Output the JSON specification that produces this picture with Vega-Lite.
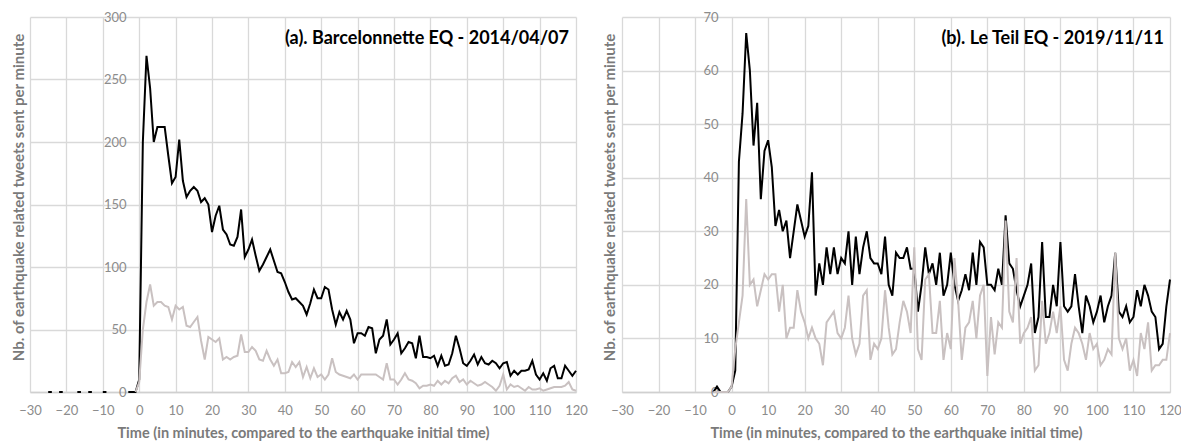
{
  "$schema": "https://vega.github.io/schema/vega-lite/v6.json",
  "padding": {"left": 10, "top": 11, "right": 5, "bottom": 2},
  "background": "white",
  "spacing": 46,
  "bounds": "flush",
  "config": {
    "view": {"stroke": null},
    "font": "Lato",
    "axis": {
      "labelFont": "Lato", "labelFontSize": 13, "labelColor": "#8c8c8c", "labelFlush": false,
      "titleFont": "Lato", "titleFontSize": 14.5, "titleFontWeight": "bold", "titleColor": "#7a7a7a",
      "gridColor": "#d9d9d9", "gridWidth": 1.3, "ticks": false
    },
    "axisY": {"titleFontSize": 15}
  },
  "datasets": {
    "a": [
      {"t": -26, "all": null, "sub": null}, {"t": -25, "all": 0, "sub": null}, {"t": -24, "all": 0, "sub": null}, {"t": -23, "all": null, "sub": null},
      {"t": -22, "all": 0, "sub": null}, {"t": -21, "all": 0, "sub": null}, {"t": -20, "all": null, "sub": null},
      {"t": -17, "all": 0, "sub": null}, {"t": -16, "all": 0, "sub": null}, {"t": -15, "all": null, "sub": null},
      {"t": -14, "all": 0, "sub": null}, {"t": -13, "all": 0, "sub": null}, {"t": -12, "all": null, "sub": null},
      {"t": -10, "all": 0, "sub": null}, {"t": -9, "all": 0, "sub": null}, {"t": -8, "all": null, "sub": null},
      {"t": -3, "all": 0, "sub": null}, {"t": -2, "all": 0, "sub": null}, {"t": -1, "all": 0, "sub": 0},
      {"t": 0, "all": 10, "sub": 8}, {"t": 1, "all": 200, "sub": 50}, {"t": 2, "all": 269, "sub": 72}, {"t": 3, "all": 243, "sub": 86},
      {"t": 4, "all": 200, "sub": 69}, {"t": 5, "all": 212, "sub": 72}, {"t": 6, "all": 212, "sub": 72}, {"t": 7, "all": 212, "sub": 69},
      {"t": 8, "all": 189, "sub": 68}, {"t": 9, "all": 167, "sub": 58}, {"t": 10, "all": 172, "sub": 69}, {"t": 11, "all": 202, "sub": 66},
      {"t": 12, "all": 169, "sub": 68}, {"t": 13, "all": 156, "sub": 53}, {"t": 14, "all": 161, "sub": 52}, {"t": 15, "all": 164, "sub": 56},
      {"t": 16, "all": 161, "sub": 60}, {"t": 17, "all": 152, "sub": 41}, {"t": 18, "all": 155, "sub": 26}, {"t": 19, "all": 150, "sub": 44},
      {"t": 20, "all": 128, "sub": 42}, {"t": 21, "all": 141, "sub": 40}, {"t": 22, "all": 149, "sub": 43}, {"t": 23, "all": 130, "sub": 26},
      {"t": 24, "all": 126, "sub": 28}, {"t": 25, "all": 118, "sub": 26}, {"t": 26, "all": 117, "sub": 28}, {"t": 27, "all": 124, "sub": 29},
      {"t": 28, "all": 146, "sub": 46}, {"t": 29, "all": 108, "sub": 32}, {"t": 30, "all": 114, "sub": 32}, {"t": 31, "all": 122, "sub": 36},
      {"t": 32, "all": 109, "sub": 33}, {"t": 33, "all": 97, "sub": 26}, {"t": 34, "all": 102, "sub": 25}, {"t": 35, "all": 108, "sub": 33},
      {"t": 36, "all": 114, "sub": 26}, {"t": 37, "all": 105, "sub": 21}, {"t": 38, "all": 96, "sub": 26}, {"t": 39, "all": 95, "sub": 15},
      {"t": 40, "all": 88, "sub": 15}, {"t": 41, "all": 80, "sub": 16}, {"t": 42, "all": 74, "sub": 24}, {"t": 43, "all": 75, "sub": 20},
      {"t": 44, "all": 72, "sub": 24}, {"t": 45, "all": 69, "sub": 12}, {"t": 46, "all": 62, "sub": 20}, {"t": 47, "all": 71, "sub": 11},
      {"t": 48, "all": 82, "sub": 19}, {"t": 49, "all": 75, "sub": 12}, {"t": 50, "all": 75, "sub": 14}, {"t": 51, "all": 84, "sub": 10},
      {"t": 52, "all": 82, "sub": 14}, {"t": 53, "all": 66, "sub": 27}, {"t": 54, "all": 54, "sub": 16}, {"t": 55, "all": 64, "sub": 14},
      {"t": 56, "all": 58, "sub": 13}, {"t": 57, "all": 65, "sub": 12}, {"t": 58, "all": 58, "sub": 11}, {"t": 59, "all": 39, "sub": 14},
      {"t": 60, "all": 47, "sub": 10}, {"t": 61, "all": 47, "sub": 14}, {"t": 62, "all": 45, "sub": 14}, {"t": 63, "all": 52, "sub": 14},
      {"t": 64, "all": 51, "sub": 14}, {"t": 65, "all": 31, "sub": 14}, {"t": 66, "all": 42, "sub": 12}, {"t": 67, "all": 45, "sub": 10},
      {"t": 68, "all": 58, "sub": 23}, {"t": 69, "all": 38, "sub": 10}, {"t": 70, "all": 42, "sub": 10}, {"t": 71, "all": 47, "sub": 6},
      {"t": 72, "all": 31, "sub": 10}, {"t": 73, "all": 35, "sub": 15}, {"t": 74, "all": 40, "sub": 10}, {"t": 75, "all": 39, "sub": 9},
      {"t": 76, "all": 27, "sub": 7}, {"t": 77, "all": 45, "sub": 3}, {"t": 78, "all": 28, "sub": 5}, {"t": 79, "all": 28, "sub": 5},
      {"t": 80, "all": 27, "sub": 6}, {"t": 81, "all": 29, "sub": 5}, {"t": 82, "all": 21, "sub": 9}, {"t": 83, "all": 29, "sub": 6},
      {"t": 84, "all": 21, "sub": 9}, {"t": 85, "all": 22, "sub": 7}, {"t": 86, "all": 31, "sub": 11}, {"t": 87, "all": 45, "sub": 13},
      {"t": 88, "all": 35, "sub": 8}, {"t": 89, "all": 23, "sub": 10}, {"t": 90, "all": 21, "sub": 6}, {"t": 91, "all": 25, "sub": 9},
      {"t": 92, "all": 30, "sub": 7}, {"t": 93, "all": 22, "sub": 5}, {"t": 94, "all": 28, "sub": 6}, {"t": 95, "all": 23, "sub": 8},
      {"t": 96, "all": 22, "sub": 6}, {"t": 97, "all": 25, "sub": 4}, {"t": 98, "all": 23, "sub": 1}, {"t": 99, "all": 19, "sub": 5},
      {"t": 100, "all": 23, "sub": 14}, {"t": 101, "all": 24, "sub": 2}, {"t": 102, "all": 13, "sub": 6}, {"t": 103, "all": 17, "sub": 4},
      {"t": 104, "all": 14, "sub": 5}, {"t": 105, "all": 17, "sub": 3}, {"t": 106, "all": 17, "sub": 1}, {"t": 107, "all": 18, "sub": 4},
      {"t": 108, "all": 25, "sub": 2}, {"t": 109, "all": 14, "sub": 2}, {"t": 110, "all": 10, "sub": 3}, {"t": 111, "all": 15, "sub": 1},
      {"t": 112, "all": 9, "sub": 2}, {"t": 113, "all": 19, "sub": 3}, {"t": 114, "all": 21, "sub": 4}, {"t": 115, "all": 11, "sub": 4},
      {"t": 116, "all": 11, "sub": 4}, {"t": 117, "all": 21, "sub": 5}, {"t": 118, "all": 17, "sub": 8}, {"t": 119, "all": 13, "sub": 2},
      {"t": 120, "all": 17, "sub": 1}
    ],
    "b": [
      {"t": -5, "all": 0, "sub": 0}, {"t": -4, "all": 1, "sub": 0}, {"t": -3, "all": 0, "sub": 0}, {"t": -2, "all": 0, "sub": 0},
      {"t": -1, "all": 0, "sub": 0}, {"t": 0, "all": 1, "sub": 1}, {"t": 1, "all": 4, "sub": 8}, {"t": 2, "all": 43, "sub": 13},
      {"t": 3, "all": 52, "sub": 18}, {"t": 4, "all": 67, "sub": 36}, {"t": 5, "all": 60, "sub": 20}, {"t": 6, "all": 46, "sub": 21},
      {"t": 7, "all": 54, "sub": 16}, {"t": 8, "all": 36, "sub": 19}, {"t": 9, "all": 45, "sub": 22}, {"t": 10, "all": 47, "sub": 21},
      {"t": 11, "all": 42, "sub": 22}, {"t": 12, "all": 31, "sub": 22}, {"t": 13, "all": 34, "sub": 15}, {"t": 14, "all": 30, "sub": 20},
      {"t": 15, "all": 32, "sub": 10}, {"t": 16, "all": 25, "sub": 12}, {"t": 17, "all": 30, "sub": 12}, {"t": 18, "all": 35, "sub": 19},
      {"t": 19, "all": 32, "sub": 15}, {"t": 20, "all": 29, "sub": 13}, {"t": 21, "all": 31, "sub": 10}, {"t": 22, "all": 41, "sub": 12},
      {"t": 23, "all": 18, "sub": 10}, {"t": 24, "all": 24, "sub": 9}, {"t": 25, "all": 20, "sub": 5}, {"t": 26, "all": 27, "sub": 13},
      {"t": 27, "all": 22, "sub": 14}, {"t": 28, "all": 27, "sub": 15}, {"t": 29, "all": 22, "sub": 11}, {"t": 30, "all": 25, "sub": 10},
      {"t": 31, "all": 24, "sub": 12}, {"t": 32, "all": 30, "sub": 18}, {"t": 33, "all": 20, "sub": 10}, {"t": 34, "all": 29, "sub": 7},
      {"t": 35, "all": 22, "sub": 9}, {"t": 36, "all": 27, "sub": 18}, {"t": 37, "all": 30, "sub": 19}, {"t": 38, "all": 25, "sub": 6},
      {"t": 39, "all": 24, "sub": 9}, {"t": 40, "all": 24, "sub": 8}, {"t": 41, "all": 22, "sub": 10}, {"t": 42, "all": 29, "sub": 19},
      {"t": 43, "all": 20, "sub": 12}, {"t": 44, "all": 18, "sub": 7}, {"t": 45, "all": 26, "sub": 8}, {"t": 46, "all": 25, "sub": 13},
      {"t": 47, "all": 25, "sub": 17}, {"t": 48, "all": 27, "sub": 15}, {"t": 49, "all": 23, "sub": 11}, {"t": 50, "all": 23, "sub": 27},
      {"t": 51, "all": 15, "sub": 8}, {"t": 52, "all": 20, "sub": 6}, {"t": 53, "all": 27, "sub": 21}, {"t": 54, "all": 22, "sub": 22},
      {"t": 55, "all": 24, "sub": 11}, {"t": 56, "all": 20, "sub": 11}, {"t": 57, "all": 26, "sub": 17}, {"t": 58, "all": 18, "sub": 6},
      {"t": 59, "all": 20, "sub": 11}, {"t": 60, "all": 26, "sub": 8}, {"t": 61, "all": 20, "sub": 25}, {"t": 62, "all": 17, "sub": 17},
      {"t": 63, "all": 19, "sub": 6}, {"t": 64, "all": 22, "sub": 12}, {"t": 65, "all": 19, "sub": 13}, {"t": 66, "all": 26, "sub": 17},
      {"t": 67, "all": 20, "sub": 10}, {"t": 68, "all": 28, "sub": 18}, {"t": 69, "all": 27, "sub": 20}, {"t": 70, "all": 20, "sub": 3},
      {"t": 71, "all": 20, "sub": 14}, {"t": 72, "all": 19, "sub": 7}, {"t": 73, "all": 23, "sub": 13}, {"t": 74, "all": 20, "sub": 12},
      {"t": 75, "all": 33, "sub": 32}, {"t": 76, "all": 24, "sub": 15}, {"t": 77, "all": 23, "sub": 13}, {"t": 78, "all": 19, "sub": 25},
      {"t": 79, "all": 16, "sub": 9}, {"t": 80, "all": 18, "sub": 11}, {"t": 81, "all": 20, "sub": 12}, {"t": 82, "all": 24, "sub": 14},
      {"t": 83, "all": 11, "sub": 4}, {"t": 84, "all": 14, "sub": 5}, {"t": 85, "all": 28, "sub": 17}, {"t": 86, "all": 14, "sub": 9},
      {"t": 87, "all": 14, "sub": 11}, {"t": 88, "all": 20, "sub": 15}, {"t": 89, "all": 16, "sub": 11}, {"t": 90, "all": 28, "sub": 16},
      {"t": 91, "all": 16, "sub": 6}, {"t": 92, "all": 15, "sub": 4}, {"t": 93, "all": 16, "sub": 9}, {"t": 94, "all": 22, "sub": 12},
      {"t": 95, "all": 16, "sub": 11}, {"t": 96, "all": 11, "sub": 9}, {"t": 97, "all": 18, "sub": 6}, {"t": 98, "all": 16, "sub": 11},
      {"t": 99, "all": 13, "sub": 8}, {"t": 100, "all": 15, "sub": 9}, {"t": 101, "all": 18, "sub": 5}, {"t": 102, "all": 13, "sub": 6},
      {"t": 103, "all": 16, "sub": 8}, {"t": 104, "all": 18, "sub": 7}, {"t": 105, "all": 26, "sub": 26}, {"t": 106, "all": 15, "sub": 10},
      {"t": 107, "all": 14, "sub": 8}, {"t": 108, "all": 16, "sub": 10}, {"t": 109, "all": 13, "sub": 4}, {"t": 110, "all": 14, "sub": 6},
      {"t": 111, "all": 19, "sub": 3}, {"t": 112, "all": 16, "sub": 11}, {"t": 113, "all": 20, "sub": 8}, {"t": 114, "all": 18, "sub": 13},
      {"t": 115, "all": 15, "sub": 4}, {"t": 116, "all": 14, "sub": 5}, {"t": 117, "all": 8, "sub": 5}, {"t": 118, "all": 9, "sub": 6},
      {"t": 119, "all": 16, "sub": 6}, {"t": 120, "all": 21, "sub": 11}
    ]
  },
  "hconcat": [
    {
      "width": 546, "height": 375,
      "data": {"name": "a"},
      "title": {"text": "(a). Barcelonnette EQ - 2014/04/07", "anchor": "end", "frame": "group", "offset": -37, "dx": -7, "fontSize": 18, "font": "Lato", "fontWeight": "bold", "color": "#000000"},
      "encoding": {
        "x": {"field": "t", "type": "quantitative", "scale": {"domain": [-30, 120], "nice": false},
              "axis": {"title": "Time (in minutes, compared to the earthquake initial time)", "values": [-30,-20,-10,0,10,20,30,40,50,60,70,80,90,100,110,120], "domain": true, "domainColor": "#d0d0d0", "domainWidth": 1.3, "labelPadding": 12, "titlePadding": 9}}
      },
      "layer": [
        {"mark": {"type": "line", "color": "#000000", "strokeWidth": 2, "invalid": "break-paths-filter-domains"},
         "encoding": {"y": {"field": "all", "type": "quantitative", "scale": {"domain": [0, 300], "nice": false},
           "axis": {"title": "Nb. of earthquake related tweets sent per minute", "values": [0,50,100,150,200,250,300], "offset": -109, "domain": false, "labelPadding": 13, "titleX": -121, "titleY": 180, "titleBaseline": "middle"}}}},
        {"mark": {"type": "line", "color": "#c9c1c1", "strokeWidth": 2, "invalid": "break-paths-filter-domains"},
         "encoding": {"y": {"field": "sub", "type": "quantitative",
           "axis": {"title": "Nb. of earthquake related tweets sent per minute", "values": [0,50,100,150,200,250,300], "offset": -109, "domain": false, "labelPadding": 13, "titleX": -121, "titleY": 180, "titleBaseline": "middle"}}}}
      ]
    },
    {
      "width": 548, "height": 375,
      "data": {"name": "b"},
      "title": {"text": "(b). Le Teil EQ - 2019/11/11", "anchor": "end", "frame": "group", "offset": -37, "dx": -6, "fontSize": 18, "font": "Lato", "fontWeight": "bold", "color": "#000000"},
      "encoding": {
        "x": {"field": "t", "type": "quantitative", "scale": {"domain": [-30, 120], "nice": false},
              "axis": {"title": "Time (in minutes, compared to the earthquake initial time)", "values": [-30,-20,-10,0,10,20,30,40,50,60,70,80,90,100,110,120], "domain": true, "domainColor": "#d0d0d0", "domainWidth": 1.3, "labelPadding": 12, "titlePadding": 9}}
      },
      "layer": [
        {"mark": {"type": "line", "color": "#000000", "strokeWidth": 2, "invalid": "break-paths-filter-domains"},
         "encoding": {"y": {"field": "all", "type": "quantitative", "scale": {"domain": [0, 70], "nice": false},
           "axis": {"title": "Nb. of earthquake related tweets sent per minute", "values": [0,10,20,30,40,50,60,70], "offset": -110, "domain": false, "labelPadding": 14, "titleX": -123, "titleY": 180, "titleBaseline": "middle"}}}},
        {"mark": {"type": "line", "color": "#c9c1c1", "strokeWidth": 2, "invalid": "break-paths-filter-domains"},
         "encoding": {"y": {"field": "sub", "type": "quantitative",
           "axis": {"title": "Nb. of earthquake related tweets sent per minute", "values": [0,10,20,30,40,50,60,70], "offset": -110, "domain": false, "labelPadding": 14, "titleX": -123, "titleY": 180, "titleBaseline": "middle"}}}}
      ]
    }
  ]
}
